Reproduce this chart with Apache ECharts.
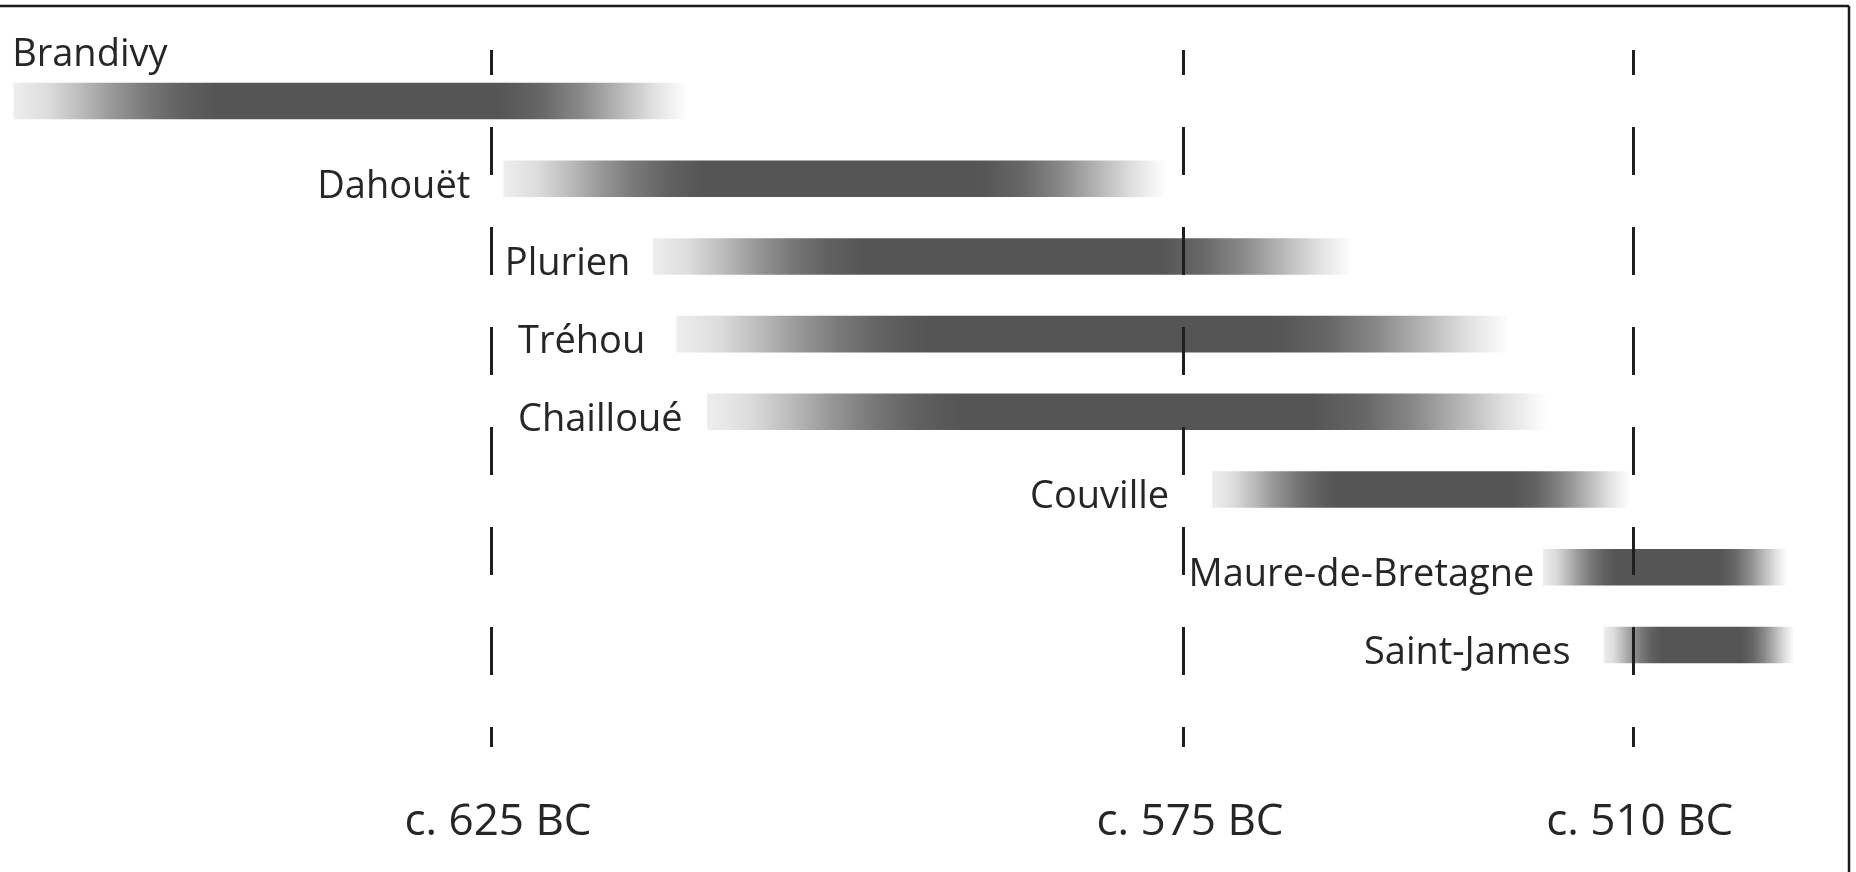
<!DOCTYPE html>
<html>
    <head>
        <meta charset="UTF-8">
        <script src="https://cdn.jsdelivr.net/npm/echarts@6/dist/echarts.min.js"></script>
        <style>html, body { margin: 0; padding: 0; background: #fff; }</style>
    </head>

    <body>
        <div id="main" style="width:1856px;height:872px"></div>
        <script type="text/javascript">
            // sites, top to bottom
            var sites = ['Brandivy', 'Dahouët', 'Plurien', 'Tréhou', 'Chailloué', 'Couville', 'Maure-de-Bretagne', 'Saint-James'];
            // span of each bar on the timeline (axis units: c. 625 BC = 0, c. 575 BC = 50)
            var spanStart = [-34.5, 0.9, 11.7, 13.4, 15.6, 52.1, 76.0, 80.4];
            var spanEnd   = [14.2, 48.8, 62.3, 73.6, 76.3, 82.3, 93.7, 94.2];
            // timeline marks
            var tickAt = [0, 50, 82.5];
            var tickLabels = ['c. 625 BC', 'c. 575 BC', 'c. 510 BC'];
            // where each name is written, and on which side of that point
            var nameAt   = [-34.6, -1.5, 1.0, 1.95, 1.95, 49.0, 50.4, 78.0];
            var nameSide = ['above', 'left', 'right', 'right', 'right', 'left', 'right', 'left'];

            var rows = sites.map(function (s, i) {
                return [i, spanStart[i], spanEnd[i]];
            });

            // soft fade in and out, dark in the middle
            var fade = [[0, 0.1], [0.05, 0.2], [0.1, 0.4], [0.15, 0.62], [0.2, 0.8], [0.25, 0.93], [0.3, 1],
                        [0.72, 1], [0.78, 0.9], [0.84, 0.7], [0.9, 0.42], [0.95, 0.18], [1, 0]];
            var barFill = {
                type: 'linear', x: 0, y: 0, x2: 1, y2: 0,
                colorStops: fade.map(function (f) {
                    return { offset: f[0], color: 'rgba(85,85,85,' + f[1] + ')' };
                })
            };

            function renderItem(params, api) {
                var i = api.value(0);
                var p0 = api.coord([api.value(1), i]);
                var p1 = api.coord([api.value(2), i]);
                var h = api.size([0, 1])[1] * 0.47;
                var lx = api.coord([nameAt[i], i])[0];
                var side = nameSide[i];
                var ty = side === 'above' ? p0[1] - 46 : p0[1] + 8;
                return {
                    type: 'group',
                    children: [
                        {
                            type: 'rect',
                            shape: { x: p0[0], y: p0[1] - h / 2, width: p1[0] - p0[0], height: h },
                            style: { fill: barFill }
                        },
                        {
                            type: 'text',
                            x: lx,
                            y: ty,
                            style: {
                                text: sites[i],
                                fill: '#262626',
                                fontSize: 38,
                                fontFamily: 'Open Sans',
                                align: side === 'left' ? 'right' : 'left',
                                verticalAlign: 'middle'
                            }
                        }
                    ]
                };
            }

            var chartDom = document.getElementById('main');
            var myChart = echarts.init(chartDom);

            var option = {
                animation: false,
                grid: { left: 0, right: 0, top: 50, bottom: 125 },
                xAxis: {
                    type: 'value',
                    min: -35.48,
                    max: 98.63,
                    axisLine: { show: false },
                    axisTick: { show: false },
                    splitLine: { show: false },
                    axisLabel: {
                        customValues: tickAt,
                        formatter: function (v) {
                            var k = tickAt.indexOf(v);
                            return k >= 0 ? tickLabels[k] : '';
                        },
                        margin: 53,
                        padding: [0, 0, 0, 14],
                        fontSize: 44,
                        fontFamily: 'Open Sans',
                        color: '#262626'
                    }
                },
                yAxis: {
                    type: 'value',
                    inverse: true,
                    min: -0.656,
                    max: 8.313,
                    show: false
                },
                graphic: [
                    { type: 'line', shape: { x1: 0, y1: 6, x2: 1849, y2: 6 }, style: { stroke: '#1a1a1a', lineWidth: 2.5 } },
                    { type: 'line', shape: { x1: 1849, y1: 6, x2: 1849, y2: 872 }, style: { stroke: '#1a1a1a', lineWidth: 2.5 } }
                ],
                series: [
                    {
                        type: 'custom',
                        renderItem: renderItem,
                        encode: { x: [1, 2], y: 0 },
                        data: rows,
                        markLine: {
                            silent: true,
                            symbol: 'none',
                            label: { show: false },
                            lineStyle: { color: '#1f1f1f', width: 3, type: [48, 52], dashOffset: 23 },
                            data: tickAt.map(function (v) { return { xAxis: v }; })
                        }
                    }
                ]
            };

            option && myChart.setOption(option);
        </script>
    </body>
</html>
